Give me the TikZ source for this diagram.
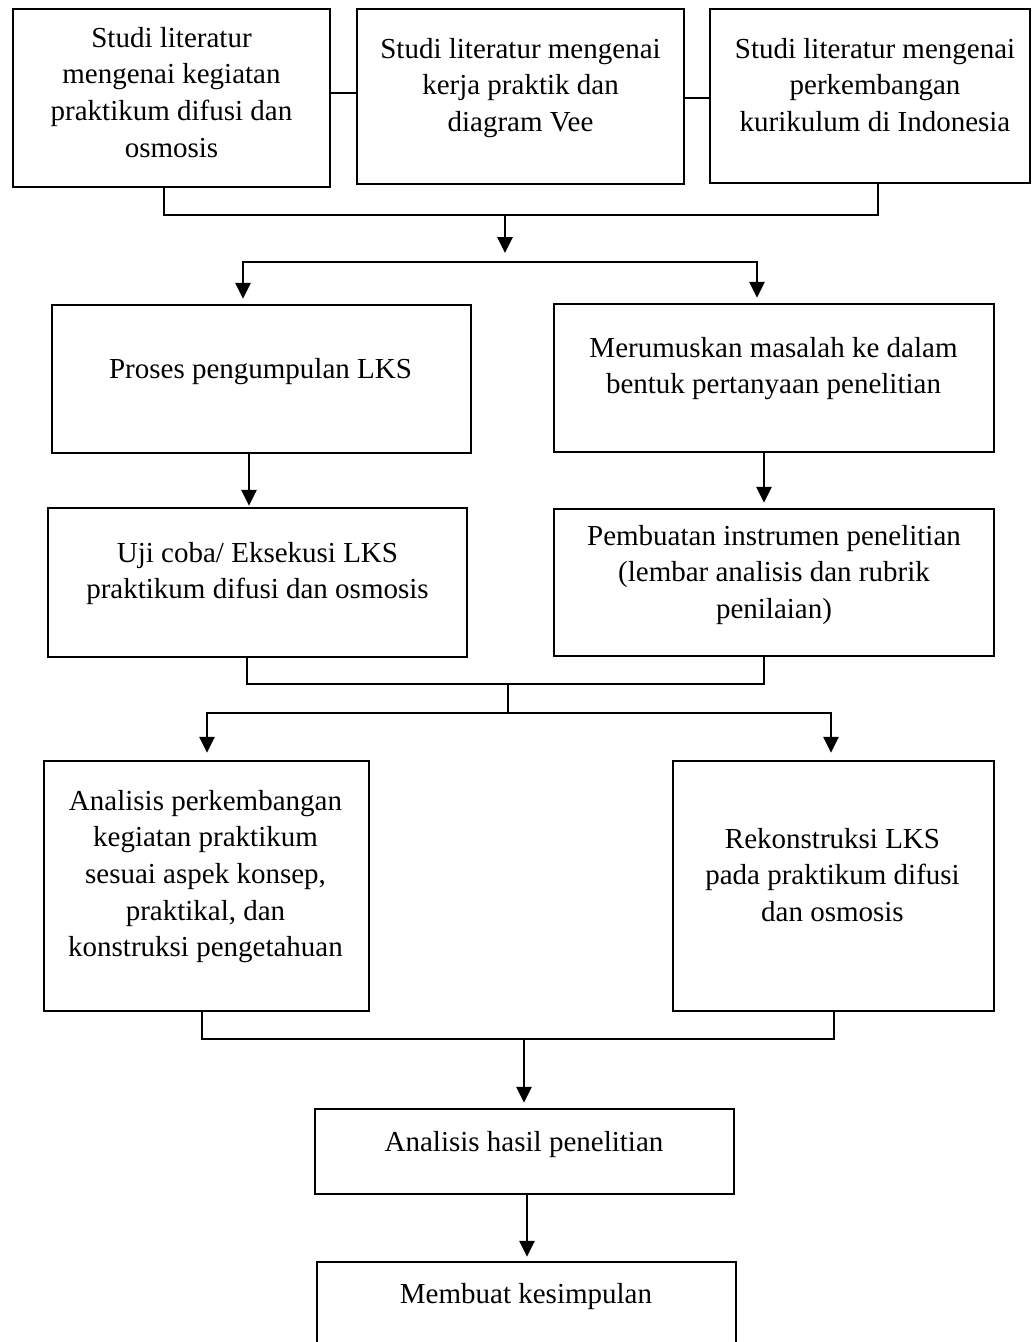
\documentclass[tikz,border=0pt]{standalone}
\usepackage{fontspec}
\setmainfont{Liberation Serif}
\usetikzlibrary{arrows.meta}
\begin{document}
\begin{tikzpicture}[x=1pt,y=-1pt,
  box/.style={draw=black, line width=2.4pt, inner sep=0pt, rectangle},
  txt/.style={anchor=north, inner sep=0pt, align=center, font=\fontsize{29}{36.6}\selectfont},
  con/.style={draw=black, line width=2.9pt, line cap=rect, line join=miter},
  arr/.style={draw=black, line width=2.9pt, line cap=butt, -{Triangle[length=16pt,width=15pt]}}]
\useasboundingbox (0,0) rectangle (1032,1342);
\clip (0,0) rectangle (1032,1342);
\fill[white] (0,0) rectangle (1032,1342);

% boxes
\node[box, minimum width=317pt, minimum height=178pt] (A) at (171.5,98) {};
\node[box, minimum width=327pt, minimum height=175pt] (B) at (520.5,96.5) {};
\node[box, minimum width=320pt, minimum height=174pt] (C) at (870,96) {};
\node[box, minimum width=419pt, minimum height=148pt] (P) at (261.5,379) {};
\node[box, minimum width=440pt, minimum height=148pt] (M) at (774,378) {};
\node[box, minimum width=419pt, minimum height=149pt] (U) at (257.5,582.5) {};
\node[box, minimum width=440pt, minimum height=147pt] (Pb) at (774,582.5) {};
\node[box, minimum width=325pt, minimum height=250pt] (An) at (206.5,886) {};
\node[box, minimum width=321pt, minimum height=250pt] (R) at (833.5,886) {};
\node[box, minimum width=419pt, minimum height=85pt] (H) at (524.5,1151.5) {};
\node[box, minimum width=419pt, minimum height=116pt] (K) at (526.5,1320) {};

% texts
\node[txt] (tA) at (171.5,21.4) {\strut Studi literatur\\mengenai kegiatan\\praktikum difusi dan\\osmosis};
\node[txt] (tB) at (520.5,32.4) {\strut Studi literatur mengenai\\kerja praktik dan\\diagram Vee};
\node[txt] (tC) at (875,32.4) {\strut Studi literatur mengenai\\perkembangan\\kurikulum di Indonesia};
\node[txt] (tP) at (260.5,352.4) {\strut Proses pengumpulan LKS};
\node[txt] (tM) at (773.5,331.4) {\strut Merumuskan masalah ke dalam\\bentuk pertanyaan penelitian};
\node[txt] (tU) at (257.5,536.4) {\strut Uji coba/ Eksekusi LKS\\praktikum difusi dan osmosis};
\node[txt] (tPb) at (774,519.4) {\strut Pembuatan instrumen penelitian\\(lembar analisis dan rubrik\\penilaian)};
\node[txt] (tAn) at (205.5,784.4) {\strut Analisis perkembangan\\kegiatan praktikum\\sesuai aspek konsep,\\praktikal, dan\\konstruksi pengetahuan};
\node[txt] (tR) at (832.5,822.4) {\strut Rekonstruksi LKS\\pada praktikum difusi\\dan osmosis};
\node[txt] (tH) at (524,1125.4) {\strut Analisis hasil penelitian};
\node[txt] (tK) at (526,1277.4) {\strut Membuat kesimpulan};

% connectors top
\coordinate (ab) at (0,93);
\coordinate (bc) at (0,98);
\draw[con] (A.east |- ab) -- (B.west |- ab);
\draw[con] (B.east |- bc) -- (C.west |- bc);
\coordinate (t1) at (164,215);
\coordinate (t2) at (878,215);
\coordinate (t3) at (505,215);
\draw[con] (A.south -| t1) -- (t1) -- (t2) -- (C.south -| t2);
\coordinate (sL) at (243,262);
\coordinate (sR) at (757,262);
\coordinate (sM) at (505,262);
\draw[arr, shorten >=9pt] (t3) -- (sM);
\draw[con] (sL) -- (sR);
\draw[arr, shorten >=5pt] (sL) -- (sL |- P.north);
\draw[arr, shorten >=5pt] (sR) -- (sR |- M.north);

% middle
\coordinate (pu) at (249,480);
\coordinate (mp) at (764,480);
\draw[arr, shorten >=1pt] (P.south -| pu) -- (U.north -| pu);
\draw[arr, shorten >=5pt] (M.south -| mp) -- (Pb.north -| mp);
\coordinate (u1) at (247,684);
\coordinate (u2) at (764,684);
\coordinate (u3) at (508,684);
\coordinate (u4) at (508,713);
\draw[con] (U.south -| u1) -- (u1) -- (u2) -- (Pb.south -| u2);
\draw[con] (u3) -- (u4);
\coordinate (vL) at (207,713);
\coordinate (vR) at (831,713);
\draw[con] (vL) -- (vR);
\draw[arr, shorten >=7pt] (vL) -- (vL |- An.north);
\draw[arr, shorten >=7pt] (vR) -- (vR |- R.north);

% bottom
\coordinate (w1) at (202,1039);
\coordinate (w2) at (834,1039);
\coordinate (w3) at (524,1039);
\draw[con] (An.south -| w1) -- (w1) -- (w2) -- (R.south -| w2);
\draw[arr, shorten >=5pt] (w3) -- (w3 |- H.north);
\coordinate (hk) at (527,1230);
\draw[arr, shorten >=4pt] (H.south -| hk) -- (K.north -| hk);
\end{tikzpicture}
\end{document}
